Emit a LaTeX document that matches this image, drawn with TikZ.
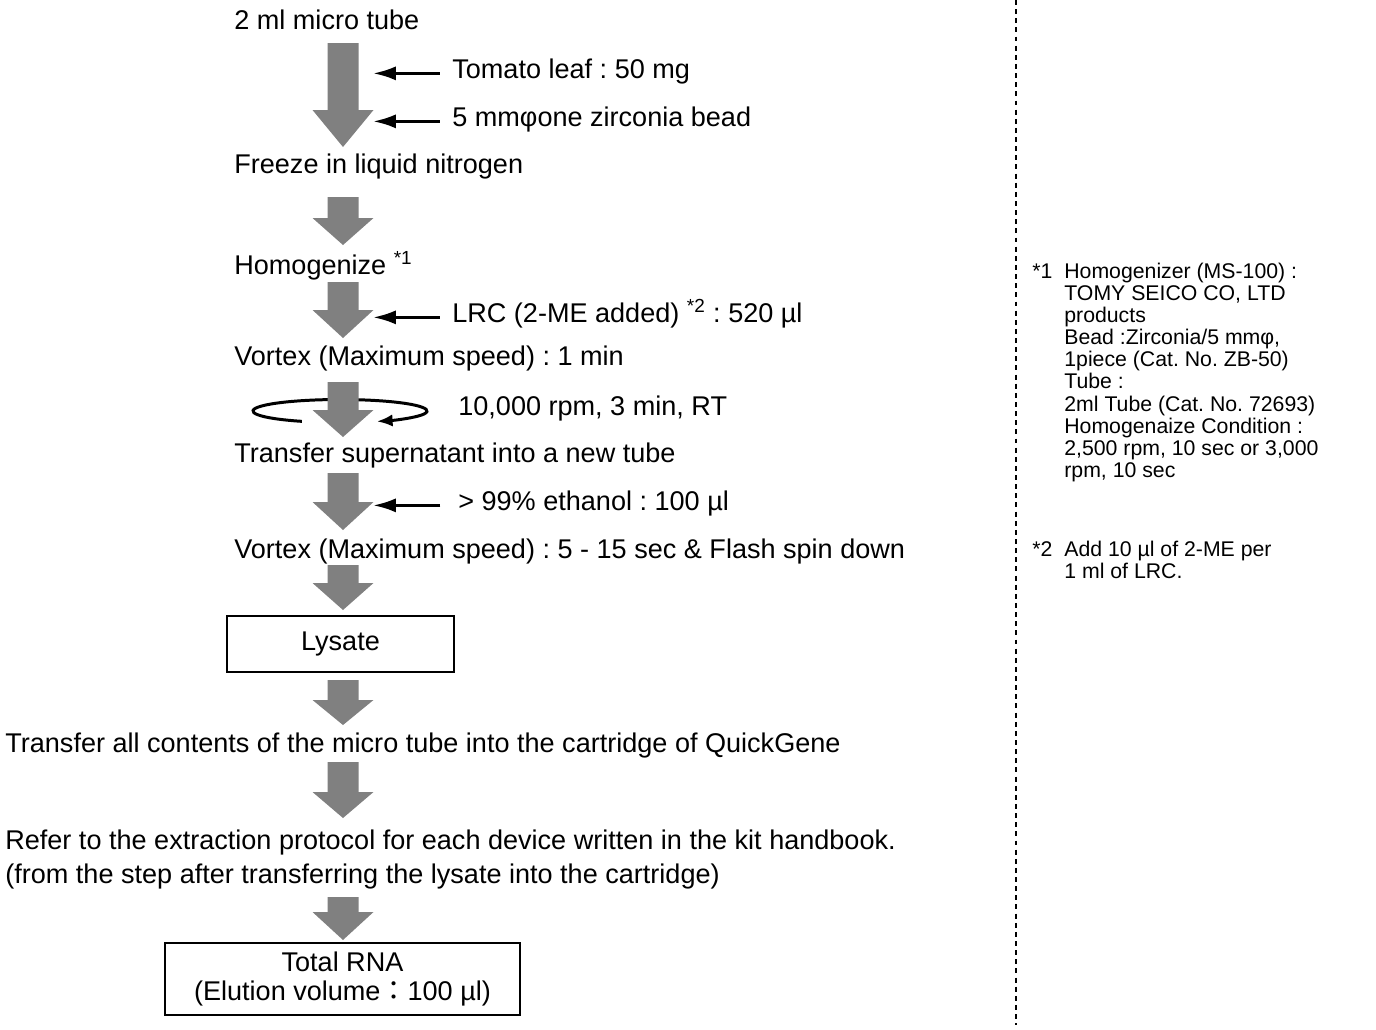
\documentclass[tikz,border=0pt]{standalone}
\usepackage{fontspec}
\setmainfont{Liberation Sans}
\newfontfamily\cjk{Noto Sans CJK JP}
\usetikzlibrary{arrows.meta}
\definecolor{arrowgray}{RGB}{128,128,128}
\frenchspacing
% big gray step arrow: x, top of shaft, start of head, tip
\newcommand\blockarrow[4]{\fill[arrowgray] (#1-15.5,#2) -- (#1+15.5,#2) -- (#1+15.5,#3) -- (#1+30.5,#3) -- (#1,#4) -- (#1-30.5,#3) -- (#1-15.5,#3) -- cycle;}
\tikzset{
  line/.style={anchor=base west,inner sep=0pt,font=\fontsize{15.4}{19.3}\selectfont},
  note/.style={anchor=north west,inner sep=0pt,align=left,font=\fontsize{12.1}{12.6}\selectfont},
  notemark/.style={anchor=base west,inner sep=0pt,font=\fontsize{12.1}{12.6}\selectfont},
  box/.style={draw,line width=1.1pt,inner sep=0pt,align=center,font=\fontsize{15.4}{17}\selectfont},
  feed/.style={line width=1.7pt,-{Latex[length=13pt,width=8pt]},shorten <=7pt},
}
\begin{document}
\begin{tikzpicture}[x=0.02cm,y=-0.02cm]
\useasboundingbox (0,0) rectangle (1376,1029);

\node[line] (tube) at (234,29) {2 ml micro tube};
\node[line] (leaf) at (452,78) {Tomato leaf : 50 mg};
\node[line] (bead) at (452,126) {5 mmφone zirconia bead};
\node[line] (freeze) at (234,173) {Freeze in liquid nitrogen};
\node[line] (homog) at (234,274) {Homogenize \textsuperscript{*1}};
\node[line] (lrc) at (452,322) {LRC (2-ME added) \textsuperscript{*2} : 520 µl};
\node[line] (vortex1) at (234,365) {Vortex (Maximum speed) : 1 min};
\node[line] (spin) at (458,415) {10,000 rpm, 3 min, RT};
\node[line] (super) at (234,462) {Transfer supernatant into a new tube};
\node[line] (etoh) at (458,510) {> 99\% ethanol : 100 µl};
\node[line] (vortex2) at (234,558) {Vortex (Maximum speed) : 5 - 15 sec \& Flash spin down};
\node[box,minimum width=4.54cm,minimum height=1.12cm] (lysate) at (340.5,644) {Lysate};
\node[line] (cart) at (5,752) {Transfer all contents of the micro tube into the cartridge of QuickGene};
\node[line] (refer) at (5,849) {Refer to the extraction protocol for each device written in the kit handbook.};
\node[line] (fromstep) at (5,883) {(from the step after transferring the lysate into the cartridge)};
\node[box,minimum width=7.1cm,minimum height=1.44cm] (rna) at (342.5,979) {Total RNA\\(Elution volume{\cjk ：}100 µl)};

% gray arrows down the flow
\blockarrow{343}{43}{110}{147}
\blockarrow{343}{197}{218}{245}
\blockarrow{343}{282}{310}{338}
\draw[line width=1.7pt,-{Latex[length=9pt,width=7pt]}] (340,411) ++(116:87 and 11.5) arc[start angle=116,end angle=425,x radius=87,y radius=11.5];
\blockarrow{343}{382}{410}{437}
\blockarrow{343}{473}{502}{530}
\blockarrow{343}{565}{583}{610}
\blockarrow{343}{680}{700}{725}
\blockarrow{343}{762}{792}{818}
\blockarrow{343}{897}{912}{940}

% things added from the side
\coordinate (leafin) at (373,68);
\coordinate (beadin) at (373,117);
\coordinate (lrcin) at (373,313);
\coordinate (etohin) at (373,501);
\draw[feed] (leaf.mid west) -- (leafin |- leaf.mid west);
\draw[feed] (bead.mid west) -- (beadin |- bead.mid west);
\draw[feed] (lrc.mid west) -- (lrcin |- lrc.mid west);
\draw[feed] ([xshift=-3pt]etoh.mid west) -- (etohin |- etoh.mid west);

% notes column
\coordinate (divtop) at (1016,0);
\coordinate (divbot) at (1016,1025);
\draw[line width=0.85pt,dash pattern=on 2.8pt off 2.4pt] (divtop) -- (divbot);
\node[notemark] (mark1) at (1032,278) {*1};
\node[note] (note1) at (1064,262.5) {Homogenizer (MS-100) :\\TOMY SEICO CO, LTD\\products\\Bead :Zirconia/5 mmφ,\\1piece (Cat. No. ZB-50)\\Tube :\\2ml Tube (Cat. No. 72693)\\Homogenaize Condition :\\2,500 rpm, 10 sec or 3,000\\rpm, 10 sec};
\node[notemark] (mark2) at (1032,556) {*2};
\node[note] (note2) at (1064,540.5) {Add 10 µl of 2-ME per\\1 ml of LRC.};
\end{tikzpicture}
\end{document}
